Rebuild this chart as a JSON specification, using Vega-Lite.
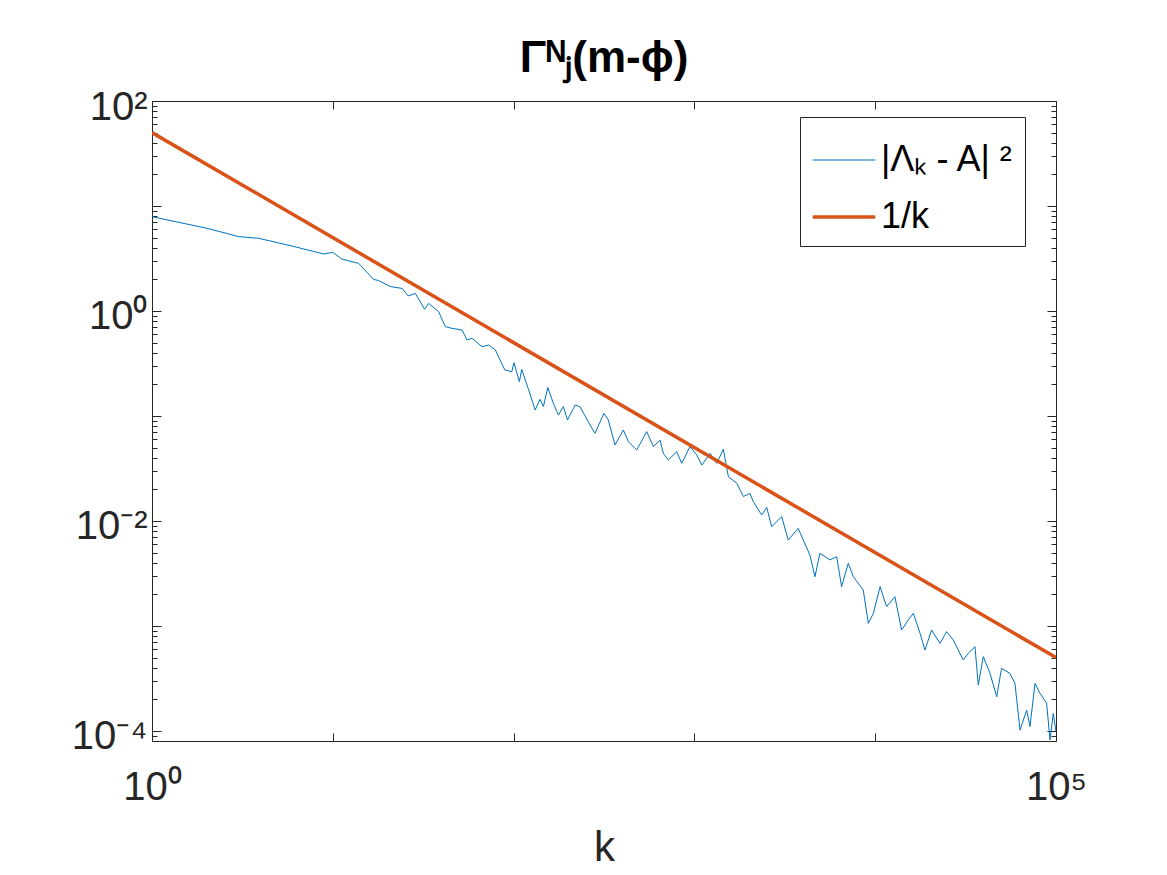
{
  "$schema": "https://vega.github.io/schema/vega-lite/v6.json",
  "width": 904,
  "height": 640,
  "autosize": {"type": "none"},
  "padding": {"left": 152, "top": 101, "right": 111, "bottom": 134},
  "background": "white",
  "title": {"text": "Γᴺⱼ(m-ϕ)", "font": "Liberation Sans", "fontSize": 44, "fontWeight": "bold", "color": "#000000", "anchor": "middle", "offset": 6},
  "config": {
    "view": {"stroke": null},
    "axis": {"grid": false, "domainColor": "#262626", "domainWidth": 1, "tickColor": "#262626", "tickWidth": 1, "labelColor": "#262626", "labelFont": "Liberation Sans", "labelFontSize": 40, "labelOverlap": false, "labelBound": false, "labelFlush": false, "titleFont": "Liberation Sans", "titleFontWeight": "normal", "titleColor": "#262626"},
    "legend": {"labelFont": "Liberation Sans"}
  },
  "resolve": {"axis": {"x": "independent", "y": "independent"}},
  "layer": [
    {
      "data": {"values": [
        {"k":1,"v":7.91,"s":"|Λₖ - A| ²"},{"k":2.01,"v":6.14,"s":"|Λₖ - A| ²"},{"k":3.02,"v":5.11,"s":"|Λₖ - A| ²"},{"k":3.89,"v":4.92,"s":"|Λₖ - A| ²"},{"k":5.94,"v":4.16,"s":"|Λₖ - A| ²"},{"k":8.91,"v":3.49,"s":"|Λₖ - A| ²"},{"k":10,"v":3.62,"s":"|Λₖ - A| ²"},{"k":11.2,"v":3.13,"s":"|Λₖ - A| ²"},{"k":13.9,"v":2.84,"s":"|Λₖ - A| ²"},{"k":16.8,"v":2.0,"s":"|Λₖ - A| ²"},{"k":17.9,"v":1.95,"s":"|Λₖ - A| ²"},{"k":20.8,"v":1.71,"s":"|Λₖ - A| ²"},{"k":24.2,"v":1.64,"s":"|Λₖ - A| ²"},{"k":26.1,"v":1.39,"s":"|Λₖ - A| ²"},{"k":28.6,"v":1.47,"s":"|Λₖ - A| ²"},{"k":32.2,"v":1.04,"s":"|Λₖ - A| ²"},{"k":33.9,"v":1.18,"s":"|Λₖ - A| ²"},{"k":38.5,"v":0.986,"s":"|Λₖ - A| ²"},{"k":41.9,"v":0.71,"s":"|Λₖ - A| ²"},{"k":45.6,"v":0.684,"s":"|Λₖ - A| ²"},{"k":51.9,"v":0.659,"s":"|Λₖ - A| ²"},{"k":55.2,"v":0.53,"s":"|Λₖ - A| ²"},{"k":58.9,"v":0.55,"s":"|Λₖ - A| ²"},{"k":66.8,"v":0.457,"s":"|Λₖ - A| ²"},{"k":72.8,"v":0.474,"s":"|Λₖ - A| ²"},{"k":79.3,"v":0.426,"s":"|Λₖ - A| ²"},{"k":89.5,"v":0.274,"s":"|Λₖ - A| ²"},{"k":97.7,"v":0.264,"s":"|Λₖ - A| ²"},{"k":100.5,"v":0.322,"s":"|Λₖ - A| ²"},{"k":107.6,"v":0.212,"s":"|Λₖ - A| ²"},{"k":110.9,"v":0.278,"s":"|Λₖ - A| ²"},{"k":120.8,"v":0.18,"s":"|Λₖ - A| ²"},{"k":131.5,"v":0.114,"s":"|Λₖ - A| ²"},{"k":140,"v":0.144,"s":"|Λₖ - A| ²"},{"k":146.2,"v":0.123,"s":"|Λₖ - A| ²"},{"k":154.5,"v":0.187,"s":"|Λₖ - A| ²"},{"k":166,"v":0.132,"s":"|Λₖ - A| ²"},{"k":177,"v":0.102,"s":"|Λₖ - A| ²"},{"k":188.4,"v":0.123,"s":"|Λₖ - A| ²"},{"k":198.6,"v":0.0916,"s":"|Λₖ - A| ²"},{"k":218.8,"v":0.127,"s":"|Λₖ - A| ²"},{"k":232.8,"v":0.123,"s":"|Λₖ - A| ²"},{"k":264.9,"v":0.082,"s":"|Λₖ - A| ²"},{"k":281.8,"v":0.0684,"s":"|Λₖ - A| ²"},{"k":316.2,"v":0.106,"s":"|Λₖ - A| ²"},{"k":334.2,"v":0.0916,"s":"|Λₖ - A| ²"},{"k":363.9,"v":0.053,"s":"|Λₖ - A| ²"},{"k":404.6,"v":0.0736,"s":"|Λₖ - A| ²"},{"k":431.5,"v":0.057,"s":"|Λₖ - A| ²"},{"k":479.7,"v":0.0474,"s":"|Λₖ - A| ²"},{"k":544.5,"v":0.071,"s":"|Λₖ - A| ²"},{"k":592.9,"v":0.0511,"s":"|Λₖ - A| ²"},{"k":645.7,"v":0.059,"s":"|Λₖ - A| ²"},{"k":673,"v":0.0441,"s":"|Λₖ - A| ²"},{"k":717.8,"v":0.0381,"s":"|Λₖ - A| ²"},{"k":798,"v":0.0457,"s":"|Λₖ - A| ²"},{"k":851.1,"v":0.0354,"s":"|Λₖ - A| ²"},{"k":946.2,"v":0.0511,"s":"|Λₖ - A| ²"},{"k":1030,"v":0.0426,"s":"|Λₖ - A| ²"},{"k":1099,"v":0.0341,"s":"|Λₖ - A| ²"},{"k":1222,"v":0.0441,"s":"|Λₖ - A| ²"},{"k":1330,"v":0.0354,"s":"|Λₖ - A| ²"},{"k":1445,"v":0.0482,"s":"|Λₖ - A| ²"},{"k":1542,"v":0.0264,"s":"|Λₖ - A| ²"},{"k":1714,"v":0.0229,"s":"|Λₖ - A| ²"},{"k":1866,"v":0.0171,"s":"|Λₖ - A| ²"},{"k":2028,"v":0.0183,"s":"|Λₖ - A| ²"},{"k":2118,"v":0.0153,"s":"|Λₖ - A| ²"},{"k":2355,"v":0.0114,"s":"|Λₖ - A| ²"},{"k":2512,"v":0.0135,"s":"|Λₖ - A| ²"},{"k":2673,"v":0.00883,"s":"|Λₖ - A| ²"},{"k":3041,"v":0.011,"s":"|Λₖ - A| ²"},{"k":3304,"v":0.00659,"s":"|Λₖ - A| ²"},{"k":3750,"v":0.00851,"s":"|Λₖ - A| ²"},{"k":3999,"v":0.00659,"s":"|Λₖ - A| ²"},{"k":4355,"v":0.00474,"s":"|Λₖ - A| ²"},{"k":4645,"v":0.00295,"s":"|Λₖ - A| ²"},{"k":4943,"v":0.00492,"s":"|Λₖ - A| ²"},{"k":5623,"v":0.00426,"s":"|Λₖ - A| ²"},{"k":6124,"v":0.00457,"s":"|Λₖ - A| ²"},{"k":6516,"v":0.00237,"s":"|Λₖ - A| ²"},{"k":7096,"v":0.00395,"s":"|Λₖ - A| ²"},{"k":7568,"v":0.00295,"s":"|Λₖ - A| ²"},{"k":8590,"v":0.0022,"s":"|Λₖ - A| ²"},{"k":9162,"v":0.00106,"s":"|Λₖ - A| ²"},{"k":9772,"v":0.00132,"s":"|Λₖ - A| ²"},{"k":10640,"v":0.00237,"s":"|Λₖ - A| ²"},{"k":11560,"v":0.00153,"s":"|Λₖ - A| ²"},{"k":12850,"v":0.0019,"s":"|Λₖ - A| ²"},{"k":14000,"v":0.000916,"s":"|Λₖ - A| ²"},{"k":15240,"v":0.00114,"s":"|Λₖ - A| ²"},{"k":16260,"v":0.00132,"s":"|Λₖ - A| ²"},{"k":17700,"v":0.000851,"s":"|Λₖ - A| ²"},{"k":18840,"v":0.00059,"s":"|Λₖ - A| ²"},{"k":20510,"v":0.000916,"s":"|Λₖ - A| ²"},{"k":22800,"v":0.000684,"s":"|Λₖ - A| ²"},{"k":24830,"v":0.000883,"s":"|Λₖ - A| ²"},{"k":27040,"v":0.000736,"s":"|Λₖ - A| ²"},{"k":30690,"v":0.000474,"s":"|Λₖ - A| ²"},{"k":32730,"v":0.00055,"s":"|Λₖ - A| ²"},{"k":35650,"v":0.000635,"s":"|Λₖ - A| ²"},{"k":37150,"v":0.000274,"s":"|Λₖ - A| ²"},{"k":39630,"v":0.000511,"s":"|Λₖ - A| ²"},{"k":43150,"v":0.000354,"s":"|Λₖ - A| ²"},{"k":46990,"v":0.000212,"s":"|Λₖ - A| ²"},{"k":50000,"v":0.000395,"s":"|Λₖ - A| ²"},{"k":55590,"v":0.000354,"s":"|Λₖ - A| ²"},{"k":59290,"v":0.000284,"s":"|Λₖ - A| ²"},{"k":63240,"v":0.000102,"s":"|Λₖ - A| ²"},{"k":68870,"v":0.000158,"s":"|Λₖ - A| ²"},{"k":71780,"v":0.00011,"s":"|Λₖ - A| ²"},{"k":76560,"v":0.000284,"s":"|Λₖ - A| ²"},{"k":81470,"v":0.000229,"s":"|Λₖ - A| ²"},{"k":88720,"v":0.000184,"s":"|Λₖ - A| ²"},{"k":92680,"v":0.000082,"s":"|Λₖ - A| ²"},{"k":96610,"v":0.000147,"s":"|Λₖ - A| ²"},{"k":100000,"v":0.0000986,"s":"|Λₖ - A| ²"}
      ]},
      "mark": {"type": "line", "clip": true, "interpolate": "linear"},
      "encoding": {
        "x": {"field": "k", "type": "quantitative", "scale": {"type": "log", "domain": [1, 100000], "nice": false},
          "axis": {"orient": "bottom", "values": [1, 10, 100, 1000, 10000, 100000], "tickSize": -8, "labelPadding": 34,
            "labelExpr": "datum.value == 1 ? '10⁰' : datum.value == 100000 ? '10⁵' : ''",
            "title": "k", "titleFontSize": 42, "titlePadding": 20}},
        "y": {"field": "v", "type": "quantitative", "scale": {"type": "log", "domain": [0.0000803, 100], "nice": false},
          "axis": {"orient": "left", "values": [0.00009,0.0001,0.0002,0.0003,0.0004,0.0005,0.0006,0.0007,0.0008,0.0009,0.001,0.002,0.003,0.004,0.005,0.006,0.007,0.008,0.009,0.01,0.02,0.03,0.04,0.05,0.06,0.07,0.08,0.09,0.1,0.2,0.3,0.4,0.5,0.6,0.7,0.8,0.9,1,2,3,4,5,6,7,8,9,10,20,30,40,50,60,70,80,90,100],
            "tickSize": {"condition": {"test": "abs(log(datum.value)/LN10 - round(log(datum.value)/LN10)) < 0.001", "value": -9}, "value": -5},
            "labelPadding": 14, "labelOffset": 6,
            "labelExpr": "datum.value == 100 ? '10²' : datum.value == 1 ? '10⁰' : datum.value == 0.01 ? '10⁻²' : datum.value == 0.0001 ? '10⁻⁴' : ''",
            "title": null}},
        "color": {"field": "s", "type": "nominal", "scale": {"domain": ["|Λₖ - A| ²", "1/k"], "range": ["#0072BD", "#D95319"]},
          "legend": {"title": null, "orient": "none", "legendX": 648, "legendY": 16, "symbolType": "stroke", "symbolSize": 3900, "labelFontSize": 36, "labelColor": "#000000", "labelOffset": 4, "padding": 11, "rowPadding": 6, "strokeColor": "#262626", "fillColor": "white", "labelLimit": 400}},
        "strokeWidth": {"field": "s", "type": "ordinal", "scale": {"domain": ["|Λₖ - A| ²", "1/k"], "range": [1, 3.5], "padding": 0},
          "legend": {"title": null, "orient": "none", "legendX": 648, "legendY": 16, "symbolType": "stroke", "symbolSize": 3900, "labelFontSize": 36, "labelColor": "#000000", "labelOffset": 4, "padding": 11, "rowPadding": 6, "strokeColor": "#262626", "fillColor": "white", "labelLimit": 400}}
      }
    },
    {
      "data": {"values": [
        {"k": 1, "v": 50, "s": "1/k"},
        {"k": 100000, "v": 0.0005, "s": "1/k"}
      ]},
      "mark": {"type": "line", "clip": true},
      "encoding": {
        "x": {"field": "k", "type": "quantitative", "scale": {"type": "log", "domain": [1, 100000], "nice": false},
          "axis": {"orient": "top", "values": [1, 10, 100, 1000, 10000, 100000], "tickSize": -8, "labels": false, "title": null}},
        "y": {"field": "v", "type": "quantitative", "scale": {"type": "log", "domain": [0.0000803, 100], "nice": false},
          "axis": {"orient": "right", "values": [0.00009,0.0001,0.0002,0.0003,0.0004,0.0005,0.0006,0.0007,0.0008,0.0009,0.001,0.002,0.003,0.004,0.005,0.006,0.007,0.008,0.009,0.01,0.02,0.03,0.04,0.05,0.06,0.07,0.08,0.09,0.1,0.2,0.3,0.4,0.5,0.6,0.7,0.8,0.9,1,2,3,4,5,6,7,8,9,10,20,30,40,50,60,70,80,90,100],
            "tickSize": {"condition": {"test": "abs(log(datum.value)/LN10 - round(log(datum.value)/LN10)) < 0.001", "value": -9}, "value": -5},
            "labels": false, "title": null}},
        "color": {"field": "s", "type": "nominal", "scale": {"domain": ["|Λₖ - A| ²", "1/k"], "range": ["#0072BD", "#D95319"]}},
        "strokeWidth": {"field": "s", "type": "ordinal", "scale": {"domain": ["|Λₖ - A| ²", "1/k"], "range": [1, 3.5], "padding": 0}}
      }
    }
  ]
}
